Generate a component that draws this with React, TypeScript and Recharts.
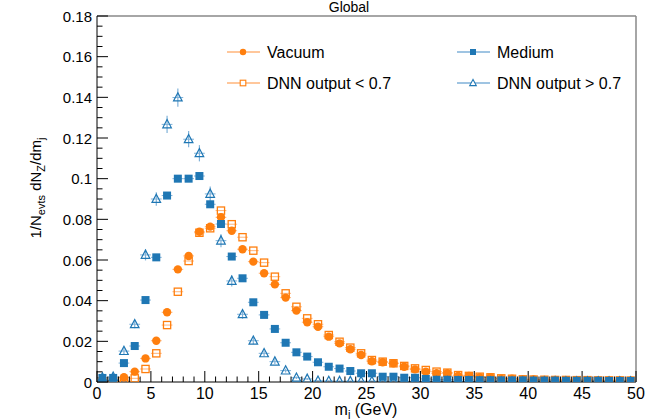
import { ScatterChart, Scatter, XAxis, YAxis, ErrorBar } from 'recharts';

const BIN_CENTERS = [
  0.5, 1.5, 2.5, 3.5, 4.5, 5.5, 6.5, 7.5, 8.5, 9.5,
  10.5, 11.5, 12.5, 13.5, 14.5, 15.5, 16.5, 17.5, 18.5, 19.5,
  20.5, 21.5, 22.5, 23.5, 24.5, 25.5, 26.5, 27.5, 28.5, 29.5,
  30.5, 31.5, 32.5, 33.5, 34.5, 35.5, 36.5, 37.5, 38.5, 39.5,
  40.5, 41.5, 42.5, 43.5, 44.5, 45.5, 46.5, 47.5, 48.5, 49.5,
];
const BIN_HALF = 0.5;

const VACUUM = [
  0.0005, 0.0006, 0.0023, 0.0051, 0.0116, 0.0203, 0.0343, 0.0554, 0.062, 0.0739,
  0.0764, 0.081, 0.0744, 0.0653, 0.0592, 0.0535, 0.048, 0.0415, 0.0351, 0.0294,
  0.0272, 0.0223, 0.019, 0.0161, 0.0133, 0.0102, 0.0097, 0.0092, 0.0075, 0.0062,
  0.0051, 0.0043, 0.0043, 0.003, 0.003, 0.0023, 0.0023, 0.0016, 0.0016, 0.0013,
  0.0013, 0.001, 0.001, 0.0009, 0.0009, 0.0008, 0.0008, 0.0007, 0.0007, 0.0007,
];
const MEDIUM = [
  0.002, 0.002, 0.0093, 0.0177, 0.0403, 0.0613, 0.0917, 0.1, 0.1, 0.1013,
  0.0874, 0.0777, 0.0617, 0.051, 0.0392, 0.033, 0.0261, 0.0193, 0.0146, 0.0125,
  0.0097, 0.0075, 0.0066, 0.0054, 0.0043, 0.0043, 0.0026, 0.0026, 0.0021, 0.0021,
  0.0015, 0.0011, 0.0011, 0.001, 0.001, 0.0009, 0.0009, 0.0008, 0.0008, 0.0008,
  0.0007, 0.0007, 0.0007, 0.0006, 0.0006, 0.0006, 0.0006, 0.0005, 0.0005, 0.0005,
];
const DNN_LOW = [
  0.0004, 0.0004, 0.0005, 0.0018, 0.0064, 0.0141, 0.028, 0.0444, 0.0595, 0.0734,
  0.0756, 0.0843, 0.0776, 0.0712, 0.0646, 0.0587, 0.0518, 0.0436, 0.037, 0.0313,
  0.0284, 0.0231, 0.0198, 0.0169, 0.0141, 0.0108, 0.01, 0.0092, 0.0079, 0.0067,
  0.0059, 0.0051, 0.0046, 0.0034, 0.003, 0.0026, 0.0023, 0.0018, 0.0016, 0.0013,
  0.0012, 0.0011, 0.001, 0.001, 0.0009, 0.0009, 0.0008, 0.0008, 0.0008, 0.0007,
];
const DNN_HIGH = [
  0.0022, 0.0025, 0.0152, 0.0284, 0.0625, 0.09, 0.1267, 0.1399, 0.1194, 0.1125,
  0.0925, 0.0695, 0.0497, 0.0333, 0.0203, 0.0141, 0.01, 0.0056, 0.0021, 0.0015,
  0.0006, 0.0005, 0.0004, 0.0004, 0.0004, 0.0004, 0.0004, 0.0004, 0.0003, 0.0003,
  0.0003, 0.0003, 0.0003, 0.0003, 0.0003, 0.0002, 0.0002, 0.0002, 0.0002, 0.0002,
  0.0002, 0.0002, 0.0002, 0.0002, 0.0002, 0.0002, 0.0002, 0.0002, 0.0002, 0.0002,
];
const DNN_HIGH_ERR = [
  0.0008, 0.0008, 0.0015, 0.002, 0.0027, 0.0033, 0.0042, 0.0045, 0.004, 0.004,
  0.0037, 0.0032, 0.0027, 0.0022, 0.0017, 0.0014, 0.0012, 0.0009, 0.0006, 0.0005,
  0.0003, 0.0003, 0.0003, 0.0003, 0.0003, 0.0003, 0.0003, 0.0003, 0.0002, 0.0002,
  0.0002, 0.0002, 0.0002, 0.0002, 0.0002, 0.0002, 0.0002, 0.0002, 0.0002, 0.0002,
  0.0002, 0.0002, 0.0002, 0.0002, 0.0002, 0.0002, 0.0002, 0.0002, 0.0002, 0.0002,
];

const X_MAJOR_TICKS = [0, 5, 10, 15, 20, 25, 30, 35, 40, 45, 50];
const Y_MAJOR_TICKS = [0, 0.02, 0.04, 0.06, 0.08, 0.1, 0.12, 0.14, 0.16, 0.18];
const Y_TICK_LABELS = ['0', '0.02', '0.04', '0.06', '0.08', '0.1', '0.12', '0.14', '0.16', '0.18'];
// minor ticks: every 1 GeV on x, every 0.005 on y
const X_TICKS = Array.from({ length: 51 }, (_, i) => i);
const Y_TICKS = Array.from({ length: 37 }, (_, i) => i * 0.005);

const ORANGE = '#ff7f0e';
const BLUE = '#1f77b4';
const ORANGE_LIGHT = '#ffb47a';
const BLUE_LIGHT = '#7fb1d8';
const FONT = '"Liberation Sans", Arial, Helvetica, sans-serif';

const W = 646;
const H = 419;

function rows(ys: number[], errs?: number[]) {
  return BIN_CENTERS.map((x, i) => ({ x, y: ys[i], ex: BIN_HALF, ey: errs ? errs[i] : 0 }));
}

const vacuumRows = rows(VACUUM);
const mediumRows = rows(MEDIUM);
const lowRows = rows(DNN_LOW);
const highRows = rows(DNN_HIGH, DNN_HIGH_ERR);

const Dot = (p: any) => <circle cx={p.cx} cy={p.cy} r={4.2} fill={ORANGE} />;
const Sq = (p: any) => <rect x={p.cx - 4} y={p.cy - 4} width={8} height={8} fill={BLUE} />;
const OpenSq = (p: any) => (
  <rect x={p.cx - 3.6} y={p.cy - 3.6} width={7.2} height={7.2} fill="none" stroke={ORANGE} strokeWidth={1.3} />
);
const OpenTri = (p: any) => (
  <polygon
    points={`${p.cx},${p.cy - 4.8} ${p.cx - 4.3},${p.cy + 3.4} ${p.cx + 4.3},${p.cy + 3.4}`}
    fill="none"
    stroke={BLUE}
    strokeWidth={1.2}
  />
);

const XTick = (p: any) => {
  const v = p.payload.value;
  const major = X_MAJOR_TICKS.includes(v);
  return (
    <g>
      <line x1={p.x} x2={p.x} y1={p.y} y2={p.y - (major ? 11 : 5.5)} stroke="#000" />
      {major && (
        <text x={p.x} y={p.y + 17} textAnchor="middle" fontSize={16} fontFamily={FONT} fill="#000">
          {v}
        </text>
      )}
    </g>
  );
};

const YTick = (p: any) => {
  const v = p.payload.value;
  const idx = Y_MAJOR_TICKS.findIndex(m => Math.abs(m - v) < 1e-9);
  const major = idx >= 0;
  return (
    <g>
      <line x1={p.x} x2={p.x + (major ? 11 : 5.5)} y1={p.y} y2={p.y} stroke="#000" />
      {major && (
        <text x={p.x - 5} y={p.y + 5.5} textAnchor="end" fontSize={15} fontFamily={FONT} fill="#000">
          {Y_TICK_LABELS[idx]}
        </text>
      )}
    </g>
  );
};

function LegendItem({ x, y, color, light, kind, label }: any) {
  const cx = x + 16;
  let marker;
  if (kind === 'dot') marker = <circle cx={cx} cy={y} r={3.2} fill={color} />;
  else if (kind === 'sq') marker = <rect x={cx - 3} y={y - 3} width={6} height={6} fill={color} />;
  else if (kind === 'osq') marker = <rect x={cx - 2.8} y={y - 2.8} width={5.6} height={5.6} fill="#fff" stroke={color} strokeWidth={1.1} />;
  else marker = <polygon points={`${cx},${y - 3.6} ${cx - 3.3},${y + 2.6} ${cx + 3.3},${y + 2.6}`} fill="#fff" stroke={color} strokeWidth={1.1} />;
  return (
    <g>
      <line x1={x} x2={x + 33} y1={y} y2={y} stroke={light} strokeWidth={1.3} />
      {marker}
      <text x={x + 40} y={y + 6} fontSize={16} fontFamily={FONT} fill="#000">{label}</text>
    </g>
  );
}

export default function App() {
  return (
    <div style={{ position: 'absolute', left: 0, top: 0, width: W, height: H, background: '#fff' }}>
      <ScatterChart width={W} height={H} margin={{ top: 15, right: 9, bottom: 7, left: 57 }}>
        <XAxis
          xAxisId="main"
          dataKey="x"
          type="number"
          domain={[0, 50]}
          ticks={X_TICKS}
          interval={0}
          height={30}
          tickSize={0}
          tickMargin={0}
          tickLine={false}
          axisLine={{ stroke: '#000' }}
          tick={<XTick />}
          allowDataOverflow
        />
        <XAxis
          xAxisId="top"
          orientation="top"
          type="number"
          domain={[0, 50]}
          height={1}
          tick={false}
          tickLine={false}
          axisLine={{ stroke: '#888', strokeWidth: 1.5 }}
        />
        <YAxis
          yAxisId="main"
          dataKey="y"
          type="number"
          domain={[0, 0.18]}
          ticks={Y_TICKS}
          interval={0}
          width={40}
          tickSize={0}
          tickMargin={0}
          tickLine={false}
          axisLine={{ stroke: '#000' }}
          tick={<YTick />}
          allowDataOverflow
        />
        <YAxis
          yAxisId="right"
          orientation="right"
          type="number"
          domain={[0, 0.18]}
          width={1}
          tick={false}
          tickLine={false}
          axisLine={{ stroke: '#888', strokeWidth: 1.5 }}
        />
        <Scatter xAxisId="main" yAxisId="main" data={lowRows} dataKey="y" shape={OpenSq} isAnimationActive={false}>
          <ErrorBar dataKey="ex" direction="x" width={0} stroke={ORANGE_LIGHT} strokeWidth={1} isAnimationActive={false} />
        </Scatter>
        <Scatter xAxisId="main" yAxisId="main" data={vacuumRows} dataKey="y" shape={Dot} isAnimationActive={false}>
          <ErrorBar dataKey="ex" direction="x" width={0} stroke={ORANGE_LIGHT} strokeWidth={1} isAnimationActive={false} />
        </Scatter>
        <Scatter xAxisId="main" yAxisId="main" data={highRows} dataKey="y" shape={OpenTri} isAnimationActive={false}>
          <ErrorBar dataKey="ex" direction="x" width={0} stroke={BLUE_LIGHT} strokeWidth={1} isAnimationActive={false} />
          <ErrorBar dataKey="ey" direction="y" width={0} stroke={BLUE_LIGHT} strokeWidth={1.2} isAnimationActive={false} />
        </Scatter>
        <Scatter xAxisId="main" yAxisId="main" data={mediumRows} dataKey="y" shape={Sq} isAnimationActive={false}>
          <ErrorBar dataKey="ex" direction="x" width={0} stroke={BLUE_LIGHT} strokeWidth={1} isAnimationActive={false} />
        </Scatter>
      </ScatterChart>
      <svg width={W} height={H} style={{ position: 'absolute', left: 0, top: 0, pointerEvents: 'none' }}>
        <text x={349} y={12} textAnchor="middle" fontSize={14} fontFamily={FONT} fill="#000">Global</text>
        <LegendItem x={227} y={52} color={ORANGE} light={ORANGE_LIGHT} kind="dot" label="Vacuum" />
        <LegendItem x={457} y={52} color={BLUE} light={BLUE_LIGHT} kind="sq" label="Medium" />
        <LegendItem x={227} y={83} color={ORANGE} light={ORANGE_LIGHT} kind="osq" label="DNN output < 0.7" />
        <LegendItem x={457} y={83} color={BLUE} light={BLUE_LIGHT} kind="tri" label="DNN output > 0.7" />
        <text x={366} y={415} textAnchor="middle" fontSize={16} fontFamily={FONT} fill="#000">
          m<tspan fontSize={11} dy={3}>j</tspan>
          <tspan dy={-3}> (GeV)</tspan>
        </text>
        <text
          x={188}
          y={41}
          transform="rotate(-90 188 41) translate(-147 -147)"
          textAnchor="middle"
          fontSize={15}
          fontFamily={FONT}
          fill="#000"
        >
          1/N<tspan fontSize={11} dy={4}>evts</tspan>
          <tspan dy={-4}> dN</tspan>
          <tspan fontSize={11} dy={4}>Z</tspan>
          <tspan dy={-4}>/dm</tspan>
          <tspan fontSize={11} dy={4}>j</tspan>
        </text>
      </svg>
    </div>
  );
}
